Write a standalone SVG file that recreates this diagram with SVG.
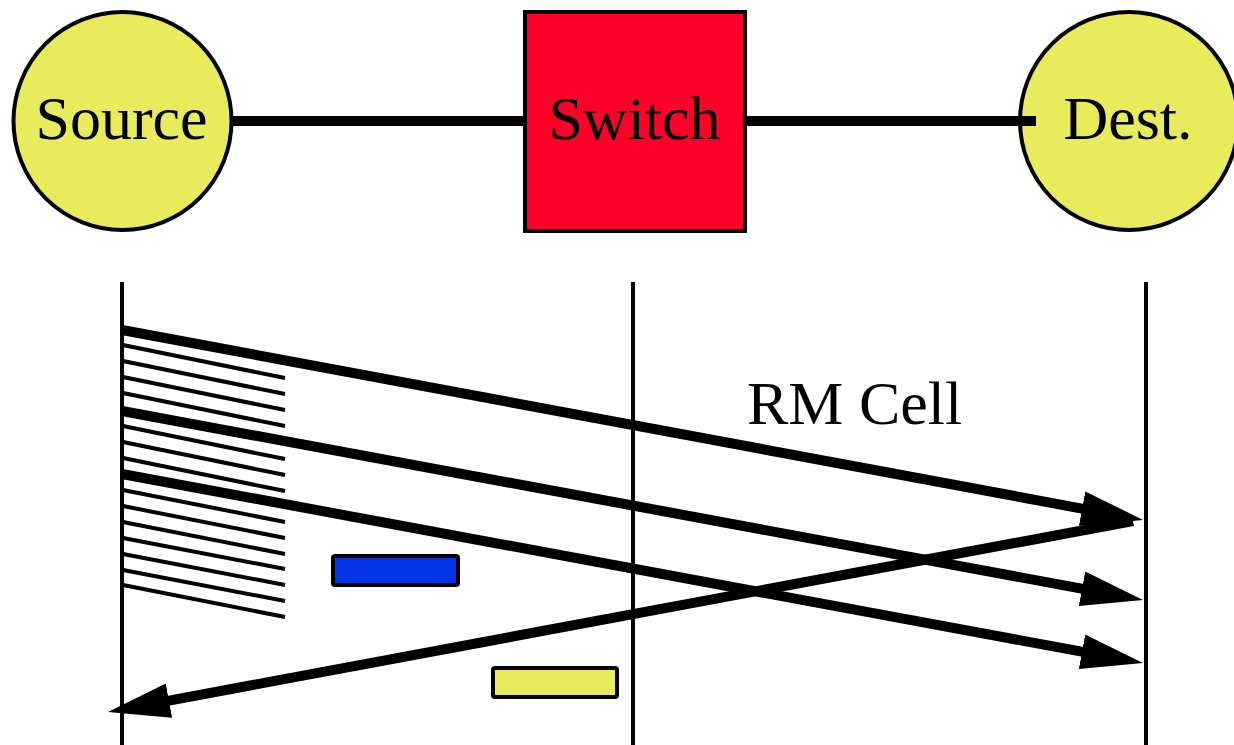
<svg xmlns="http://www.w3.org/2000/svg" width="1234" height="745" viewBox="0 0 1234 745">
<style>
.node{fill:#E8EB5C;stroke:#000;stroke-width:4}
.sw{fill:#FF0029;stroke:#000;stroke-width:4}
.lbl{font-family:"Liberation Serif","Times New Roman",serif;font-size:62px;fill:#000}
.link{stroke:#000;stroke-width:10;fill:none}
.time{stroke:#000;stroke-width:4;fill:none}
.cell{stroke:#000;stroke-width:1;stroke-width:4}
.thin{stroke:#000;stroke-width:4}
.thick{stroke:#000;stroke-width:10;fill:none;marker-end:url(#ah)}
</style>
<defs>
<marker id="ah" markerUnits="userSpaceOnUse" markerWidth="64" markerHeight="36" refX="12" refY="17.5" orient="auto" viewBox="0 0 64 36">
<path d="M0,0 L62,17.5 L0,35 Z" fill="#000"/>
</marker>
</defs>
<rect width="1234" height="745" fill="#fff"/>
<g id="source"><circle class="node" cx="122.5" cy="121" r="109"/><text class="lbl" x="121.5" y="139" text-anchor="middle">Source</text></g>
<g id="switch"><rect class="sw" x="525" y="12" width="220" height="219"/><text class="lbl" x="634.5" y="139" text-anchor="middle">Switch</text></g>
<g id="dest"><circle class="node" cx="1129" cy="121" r="109"/><text class="lbl" x="1128" y="139" text-anchor="middle">Dest.</text></g>
<g id="timelines">
<line class="time" x1="122" y1="282" x2="122" y2="745"/>
<line class="time" x1="633" y1="282" x2="633" y2="745"/>
<line class="time" x1="1146" y1="282" x2="1146" y2="745"/>
</g>
<g id="data-cells">
<line class="thin" x1="123" y1="345" x2="285" y2="378"/>
<line class="thin" x1="123" y1="361" x2="285" y2="394"/>
<line class="thin" x1="123" y1="377" x2="285" y2="410"/>
<line class="thin" x1="123" y1="393" x2="285" y2="426"/>
<line class="thin" x1="123" y1="426" x2="285" y2="459"/>
<line class="thin" x1="123" y1="442" x2="285" y2="475"/>
<line class="thin" x1="123" y1="458" x2="285" y2="491"/>
<line class="thin" x1="123" y1="490" x2="285" y2="522"/>
<line class="thin" x1="123" y1="506" x2="285" y2="538"/>
<line class="thin" x1="123" y1="522" x2="285" y2="554"/>
<line class="thin" x1="123" y1="538" x2="285" y2="569"/>
<line class="thin" x1="123" y1="554" x2="285" y2="585"/>
<line class="thin" x1="123" y1="570" x2="285" y2="601"/>
<line class="thin" x1="123" y1="585" x2="285" y2="617"/>
</g>
<g id="connectors">
<line class="link" x1="233" y1="121" x2="525" y2="121"/>
<line class="link" x1="745" y1="121" x2="1036" y2="121"/>
<line class="thick" x1="122" y1="330" x2="1093.9" y2="510.8"/>
<line class="thick" x1="122" y1="411" x2="1093.8" y2="590.9"/>
<line class="thick" x1="122" y1="474" x2="1093.8" y2="653.9"/>
<line class="thick" x1="1133" y1="521" x2="157.2" y2="702.8"/>
</g>
<g id="blue-cell"><rect class="cell" x="333" y="556" width="125" height="29" rx="2" fill="#0535E8"/></g>
<g id="yellow-cell"><rect class="cell" x="493" y="668" width="124" height="29" rx="2" fill="#E8EB5C"/></g>
<g id="rm-label"><text class="lbl" x="747" y="424">RM Cell</text></g>
</svg>
